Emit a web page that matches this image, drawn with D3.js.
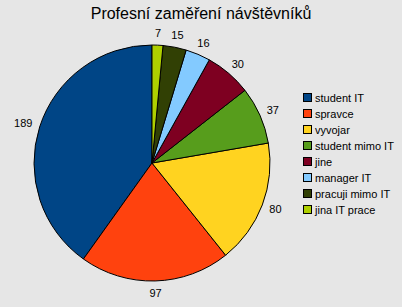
<!DOCTYPE html>
<html>
<head>
<meta charset="utf-8">
<script src="https://cdn.jsdelivr.net/npm/d3@7"></script>
<style>
  html, body { margin: 0; padding: 0; background: #e6e6e6; }
  svg { display: block; font-family: "Liberation Sans", Arial, sans-serif; }
</style>
</head>
<body>
<div id="chart"></div>
<script>
const width = 402
const height = 307

const categories = ["student IT", "spravce", "vyvojar", "student mimo IT", "jine", "manager IT", "pracuji mimo IT", "jina IT prace"]
const values = [189, 97, 80, 37, 30, 16, 15, 7]
const colors = ["#004586", "#ff420e", "#ffd320", "#579d1c", "#7e0021", "#83caff", "#314004", "#aecf00"]

const cx = 152, cy = 163, r = 118

const svg = d3.select("#chart").append("svg").attr("width", width).attr("height", height)

svg.append("rect").attr("width", width).attr("height", height).attr("fill", "#e6e6e6")

// title
svg.append("text")
    .attr("x", 201)
    .attr("y", 19)
    .attr("text-anchor", "middle")
    .attr("font-size", 16)
    .attr("fill", "#000")
    .text("Profesní zaměření návštěvníků")

const color = d3.scaleOrdinal().domain(categories).range(colors)

// pie goes counterclockwise from 12 o'clock
const pie = d3.pie().sort(null).value(d => d.value).startAngle(0).endAngle(-2 * Math.PI)
const arcs = pie(categories.map((c, i) => ({ name: c, value: values[i] })))

const arc = d3.arc().innerRadius(0).outerRadius(r)

const g = svg.append("g").attr("transform", `translate(${cx},${cy})`)

g.selectAll("path")
    .data(arcs)
    .join("path")
    .attr("d", arc)
    .attr("fill", d => color(d.data.name))
    .attr("stroke", "#000")
    .attr("stroke-width", 1)
    .attr("stroke-linejoin", "round")

// value labels outside the slices
const labelR = r + 8
g.selectAll("text.val")
    .data(arcs)
    .join("text")
    .attr("class", "val")
    .attr("font-size", 11)
    .attr("text-anchor", "middle")
    .attr("dominant-baseline", "central")
    .text(d => d.data.value)
    .each(function (d) {
        const a = (d.startAngle + d.endAngle) / 2
        const s = Math.sin(a), c = -Math.cos(a)
        const bb = this.getBBox()
        const x = s * labelR + s * bb.width / 2
        const y = c * labelR + c * 4
        d3.select(this).attr("x", x).attr("y", y)
    })

// legend
const legend = svg.append("g").attr("transform", "translate(303,93)")
const rows = legend.selectAll("g")
    .data(categories)
    .join("g")
    .attr("transform", (d, i) => `translate(0,${i * 16})`)

rows.append("rect")
    .attr("x", 0.5)
    .attr("y", 0.5)
    .attr("width", 8)
    .attr("height", 8)
    .attr("fill", d => color(d))
    .attr("stroke", "#000")

rows.append("text")
    .attr("x", 12)
    .attr("y", 8.5)
    .attr("font-size", 11)
    .attr("fill", "#000")
    .text(d => d)
</script>
</body>
</html>
